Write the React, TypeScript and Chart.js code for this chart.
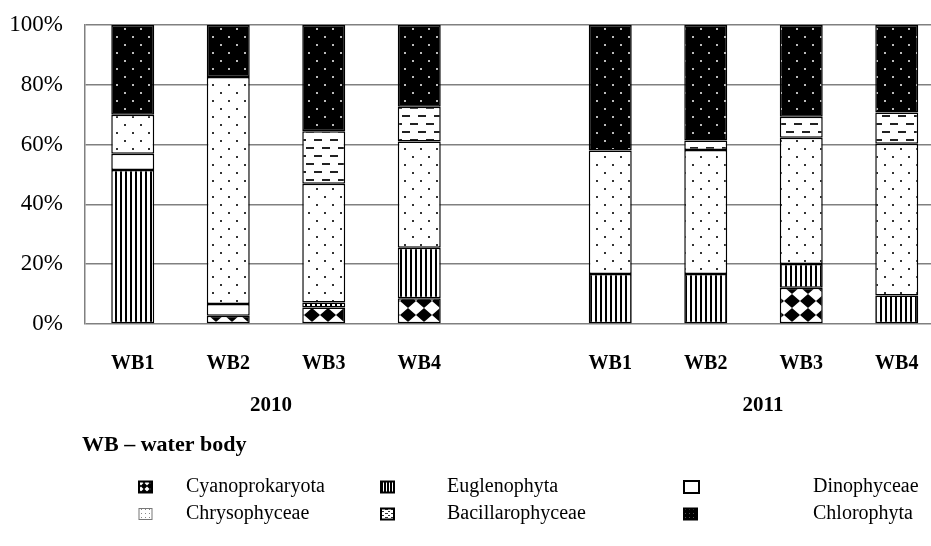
import React, { useEffect, useRef } from "react";
import { Chart, registerables } from "chart.js";
Chart.register(...registerables);

const categories = ["WB1", "WB2", "WB3", "WB4", "", "WB1", "WB2", "WB3", "WB4"];
const yearLabels = ["2010", "2011"];
const seriesNames = ["Cyanoprokaryota", "Euglenophyta", "Dinophyceae", "Chrysophyceae", "Bacillarophyceae", "Chlorophyta"];
const cyanoprokaryota = [null, 2.8, 5.5, 8.6, null, null, null, 12.1, null];
const euglenophyta = [51.5, null, 1.7, 16.9, null, 16.7, 16.7, 8.0, 9.5];
const dinophyceae = [5.4, 3.9, null, null, null, null, null, null, null];
const chrysophyceae = [13.1, 75.9, 39.7, 35.5, null, 41.3, 41.5, 42.2, 50.8];
const bacillarophyceae = [null, null, 17.6, 11.7, null, null, 3.2, 7.0, 10.4];
const chlorophyta = [30.0, 17.4, 35.5, 27.3, null, 42.0, 38.6, 30.7, 29.3];
const noteText = "WB \u2013 water body";

const SERIF = '"Liberation Serif", "Times New Roman", serif';

function tile(w: number, h: number, draw: (c: CanvasRenderingContext2D) => void) {
  const cv = document.createElement("canvas");
  cv.width = w;
  cv.height = h;
  const c = cv.getContext("2d")!;
  draw(c);
  return cv;
}

function makePattern(ctx: CanvasRenderingContext2D, kind: string): CanvasPattern | string {
  let cv: HTMLCanvasElement;
  if (kind === "cyano") {
    cv = tile(16, 14, (c) => {
      c.fillStyle = "#fff";
      c.fillRect(0, 0, 16, 14);
      c.fillStyle = "#000";
      c.beginPath();
      c.moveTo(8, 0);
      c.lineTo(16, 7);
      c.lineTo(8, 14);
      c.lineTo(0, 7);
      c.closePath();
      c.fill();
    });
  } else if (kind === "eug") {
    cv = tile(5, 4, (c) => {
      c.fillStyle = "#fff";
      c.fillRect(0, 0, 5, 4);
      c.fillStyle = "#000";
      c.fillRect(0, 0, 2, 4);
    });
  } else if (kind === "dino") {
    return "#ffffff";
  } else if (kind === "chryso") {
    cv = tile(16, 16, (c) => {
      c.fillStyle = "#fff";
      c.fillRect(0, 0, 16, 16);
      c.fillStyle = "#333";
      c.fillRect(4, 4, 2, 2);
      c.fillRect(12, 12, 2, 2);
    });
  } else if (kind === "bac") {
    cv = tile(16, 16, (c) => {
      c.fillStyle = "#fff";
      c.fillRect(0, 0, 16, 16);
      c.fillStyle = "#222";
      c.fillRect(2, 3, 8, 2);
      c.fillRect(10, 11, 6, 2);
      c.fillRect(0, 11, 2, 2);
    });
  } else {
    cv = tile(16, 16, (c) => {
      c.fillStyle = "#000";
      c.fillRect(0, 0, 16, 16);
      c.fillStyle = "#bbb";
      c.fillRect(4, 4, 2, 2);
      c.fillRect(12, 12, 2, 2);
    });
  }
  return ctx.createPattern(cv, "repeat")!;
}

function iconPattern(ctx: CanvasRenderingContext2D, kind: string): CanvasPattern | string {
  let cv: HTMLCanvasElement;
  if (kind === "cyano") {
    cv = tile(6, 6, (c) => {
      c.fillStyle = "#000";
      c.fillRect(0, 0, 6, 6);
      c.fillStyle = "#fff";
      c.beginPath();
      c.moveTo(3, 0.5);
      c.lineTo(5.5, 3);
      c.lineTo(3, 5.5);
      c.lineTo(0.5, 3);
      c.closePath();
      c.fill();
    });
  } else if (kind === "eug") {
    cv = tile(3, 3, (c) => {
      c.fillStyle = "#000";
      c.fillRect(0, 0, 3, 3);
      c.fillStyle = "#fff";
      c.fillRect(2, 0, 1, 3);
    });
  } else if (kind === "dino") {
    return "#ffffff";
  } else if (kind === "chryso") {
    cv = tile(4, 4, (c) => {
      c.fillStyle = "#fff";
      c.fillRect(0, 0, 4, 4);
      c.fillStyle = "#888";
      c.fillRect(1, 1, 1, 1);
    });
  } else if (kind === "bac") {
    cv = tile(6, 4, (c) => {
      c.fillStyle = "#fff";
      c.fillRect(0, 0, 6, 4);
      c.fillStyle = "#333";
      c.fillRect(1, 1, 3, 1);
      c.fillRect(4, 3, 2, 1);
    });
  } else {
    cv = tile(4, 4, (c) => {
      c.fillStyle = "#000";
      c.fillRect(0, 0, 4, 4);
      c.fillStyle = "#555";
      c.fillRect(1, 1, 1, 1);
    });
  }
  return ctx.createPattern(cv, "repeat")!;
}

const kinds = ["cyano", "eug", "dino", "chryso", "bac", "chloro"];

const extrasPlugin = {
  id: "extras",
  afterDraw(chart: any) {
    const ctx: CanvasRenderingContext2D = chart.ctx;
    ctx.save();
    ctx.fillStyle = "#000";
    ctx.textBaseline = "middle";
    // year labels
    ctx.font = `bold 21px ${SERIF}`;
    ctx.textAlign = "center";
    ctx.fillText(yearLabels[0], 271, 406);
    ctx.fillText(yearLabels[1], 763, 406);
    // note
    ctx.textAlign = "left";
    ctx.font = `bold 22px ${SERIF}`;
    ctx.fillText(noteText, 82, 445);
    // legend
    const colX = [139, 381, 684];
    const textX = [186, 447, 813];
    const rowY = [487, 514];
    ctx.font = `20px ${SERIF}`;
    seriesNames.forEach((name, i) => {
      const col = i % 3;
      const row = Math.floor(i / 3);
      const cy = rowY[row];
      const w = kinds[i] === "dino" ? 15 : 13;
      const h = kinds[i] === "dino" ? 12 : 11;
      const x0 = colX[col];
      const y0 = cy - h / 2;
      ctx.fillStyle = iconPattern(ctx, kinds[i]) as any;
      ctx.fillRect(x0, y0, w, h);
      ctx.strokeStyle = kinds[i] === "chryso" ? "#777" : "#000";
      ctx.lineWidth = kinds[i] === "chryso" ? 1 : 2;
      ctx.strokeRect(x0, y0, w, h);
      ctx.fillStyle = "#000";
      ctx.fillText(name, textX[col], cy);
    });
    ctx.restore();
  },
};

export default function App() {
  const ref = useRef<HTMLCanvasElement>(null);
  useEffect(() => {
    const canvas = ref.current!;
    const ctx = canvas.getContext("2d")!;
    const seriesData = [cyanoprokaryota, euglenophyta, dinophyceae, chrysophyceae, bacillarophyceae, chlorophyta];
    const datasets = seriesNames.map((name, i) => ({
      label: name,
      data: seriesData[i],
      backgroundColor: makePattern(ctx, kinds[i]) as any,
      borderColor: "#000",
      borderWidth: 1.5,
      borderSkipped: false as any,
      categoryPercentage: 1,
      barPercentage: 0.45,
    }));
    const chart = new Chart(canvas, {
      type: "bar",
      data: { labels: categories, datasets },
      options: {
        responsive: false,
        animation: false,
        devicePixelRatio: 1,
        layout: { padding: { top: 25, right: 15.5, left: 0, bottom: 0 } },
        plugins: { legend: { display: false }, tooltip: { enabled: false } },
        scales: {
          x: {
            stacked: true,
            grid: { display: false, drawTicks: false },
            border: { display: false },
            ticks: {
              color: "#000",
              font: { family: SERIF, size: 20, weight: "bold" },
              padding: 28,
              autoSkip: false,
              maxRotation: 0,
            },
            afterFit: (s: any) => {
              s.height = 546 - 324;
            },
          },
          y: {
            stacked: true,
            min: 0,
            max: 100,
            grid: { color: "#808080", lineWidth: 1.5, drawTicks: false, tickLength: 0 },
            border: { display: true, color: "#808080", width: 1.5 },
            ticks: {
              stepSize: 20,
              color: "#000",
              font: { family: SERIF, size: 23 },
              padding: 22,
              callback: (v: any) => v + "%",
            },
            afterFit: (s: any) => {
              s.width = 85;
              s.paddingTop = 0;
              s.paddingBottom = 0;
            },
          },
        },
      },
      plugins: [extrasPlugin],
    });
    return () => chart.destroy();
  }, []);
  return (
    <div style={{ position: "fixed", left: 0, top: 0, width: 931, height: 546, overflow: "hidden", background: "#fff" }}>
      <canvas ref={ref} width={960} height={546} style={{ display: "block", width: 960, height: 546 }} />
    </div>
  );
}
